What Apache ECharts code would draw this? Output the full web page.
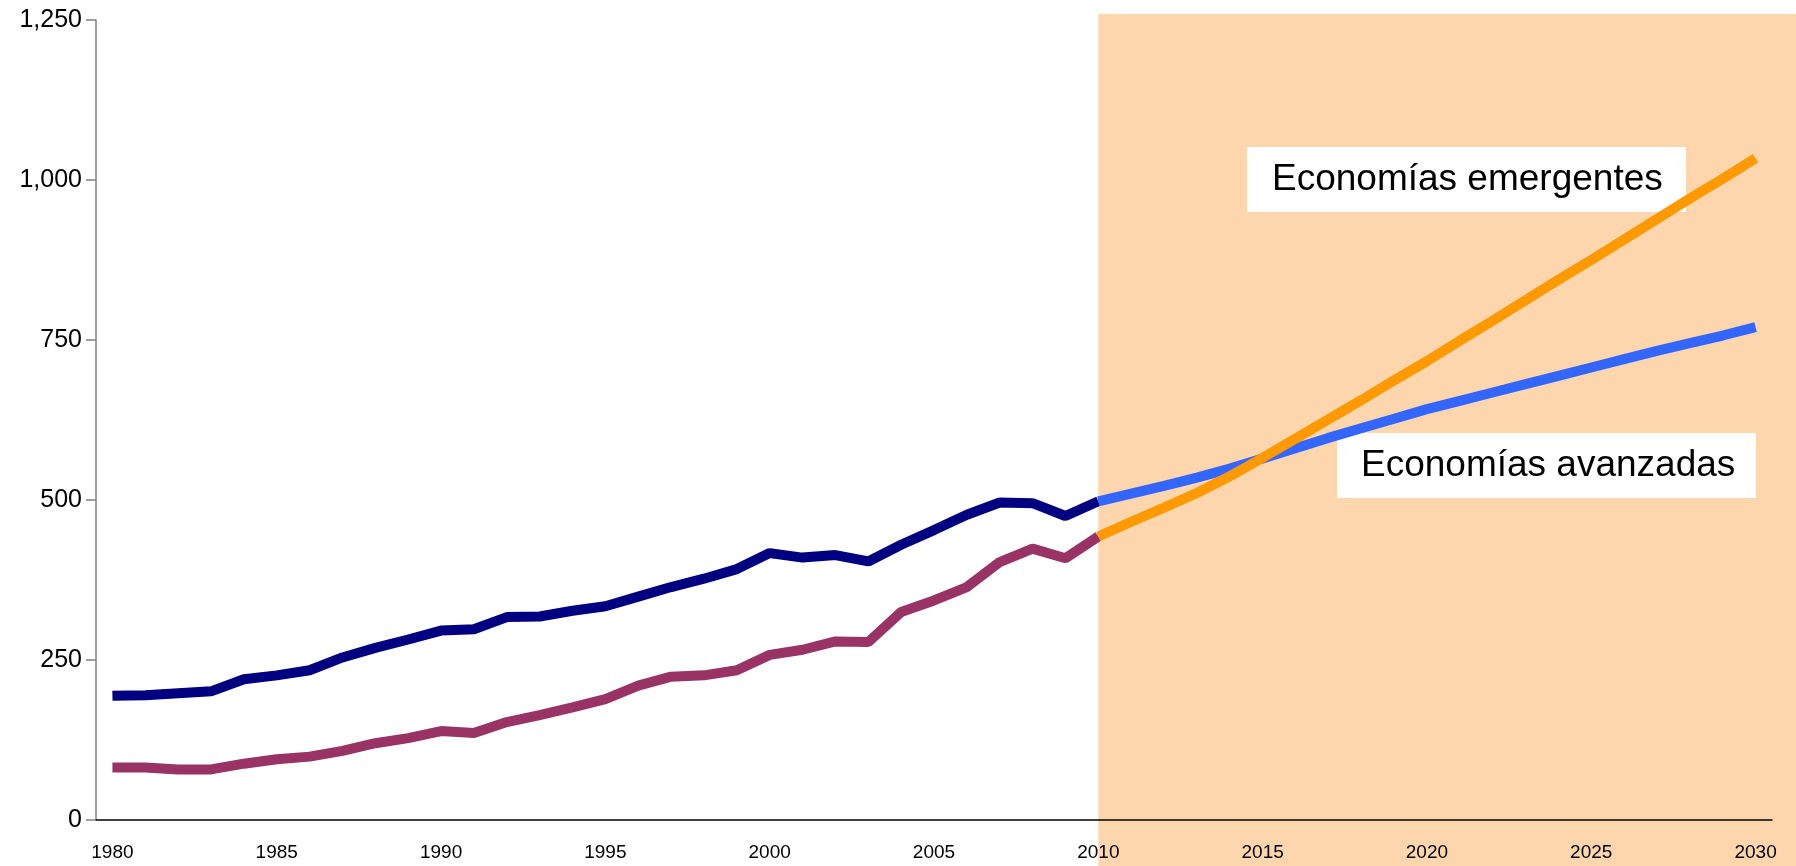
<!DOCTYPE html>
<html>
<head>
<meta charset="utf-8">
<script src="https://cdn.jsdelivr.net/npm/echarts@6/dist/echarts.min.js"></script>
<style>
  html, body { margin: 0; padding: 0; background: #fff; }
  #chart { width: 1796px; height: 866px; }
</style>
</head>
<body>
<div id="chart"></div>
<script>
// years on the category axis
var years = [];
for (var y = 1980; y <= 2030; y++) { years.push(String(y)); }

// historic 1980-2010
var avanzadasHist = [194, 195, 198, 201, 220, 226, 234, 254, 269, 282, 296, 298, 317, 318,
    327, 334, 349, 364, 377, 392, 417, 410, 414, 404, 430, 453, 477, 496, 495, 475, 498];
var emergentesHist = [82, 82, 79, 79, 88, 95, 99, 108, 120, 128, 139, 136, 153, 164,
    176, 189, 210, 224, 226, 234, 258, 266, 279, 278, 325, 343, 364, 403, 424, 409, 443];

// projections 2010-2030
var avanzadasProj = [498, 510, 522, 535, 549, 565, 581, 597, 612, 627, 642,
    655, 668, 681, 694, 707, 720, 733, 745, 757, 770];
var emergentesProj = [443, 466, 488, 511, 537, 566, 596, 626, 656, 687, 717,
    749, 780, 812, 844, 875, 907, 939, 971, 1002, 1034];

var yTicks = [0, 250, 500, 750, 1000, 1250];

var labelFont = "'Liberation Sans Narrow', 'Arial Narrow', 'Liberation Sans', Arial, sans-serif";
var boxFont = "'Liberation Sans', Arial, sans-serif";

function padRight(arr, total) {
    var out = arr.slice();
    while (out.length < total) { out.push('-'); }
    return out;
}
function padLeft(arr, total) {
    var out = arr.slice();
    while (out.length < total) { out.unshift('-'); }
    return out;
}

var chart = echarts.init(document.getElementById('chart'));

var option = {
    animation: false,
    backgroundColor: '#ffffff',
    grid: { left: 96, right: 24, top: 20, bottom: 46 },
    xAxis: {
        type: 'category',
        data: years,
        boundaryGap: true,
        axisLine: { lineStyle: { color: '#000000', width: 1.5 } },
        axisTick: { interval: 4, length: 9, lineStyle: { color: '#000000', width: 1.5 } },
        axisLabel: {
            interval: 4,
            margin: 23,
            color: '#000000',
            fontSize: 19,
            fontFamily: labelFont
        },
        splitLine: { show: false }
    },
    yAxis: {
        type: 'value',
        min: yTicks[0],
        max: yTicks[yTicks.length - 1],
        interval: 250,
        axisLine: { show: true, lineStyle: { color: '#808080', width: 1.5 } },
        axisTick: { show: true, length: 10, lineStyle: { color: '#808080', width: 1.5 } },
        axisLabel: {
            margin: 14,
            color: '#000000',
            fontSize: 25,
            fontFamily: labelFont,
            formatter: function (v) { return v.toLocaleString('en-US'); }
        },
        splitLine: { show: false }
    },
    series: [
        {
            name: 'Economías avanzadas (hist)',
            type: 'line',
            data: padRight(avanzadasHist, years.length),
            showSymbol: false,
            symbol: 'none',
            lineStyle: { color: '#000080', width: 10 },
            z: 3
        },
        {
            name: 'Economías emergentes (hist)',
            type: 'line',
            data: padRight(emergentesHist, years.length),
            showSymbol: false,
            symbol: 'none',
            lineStyle: { color: '#993366', width: 10 },
            z: 3
        },
        {
            name: 'Economías avanzadas',
            type: 'line',
            data: padLeft(avanzadasProj, years.length),
            showSymbol: false,
            symbol: 'none',
            lineStyle: { color: '#3366FF', width: 10 },
            z: 4
        },
        {
            name: 'Economías emergentes',
            type: 'line',
            data: padLeft(emergentesProj, years.length),
            showSymbol: false,
            symbol: 'none',
            lineStyle: { color: '#FF9900', width: 10 },
            z: 5
        }
    ]
};
chart.setOption(option);

// shaded projection period, starting at the 2010 point
var xStart = chart.convertToPixel({ xAxisIndex: 0 }, '2010');
chart.setOption({
    graphic: [
        {
            type: 'rect',
            z: -10,
            silent: true,
            shape: { x: xStart, y: 14, width: 1796 - xStart, height: 866 - 14 },
            style: { fill: '#FDD6AE' }
        },
        {
            type: 'group',
            z: 100,
            children: [
                { type: 'rect', shape: { x: 1247, y: 147, width: 439, height: 65 }, style: { fill: '#ffffff' } },
                { type: 'text', x: 1272, y: 180, style: { text: 'Economías emergentes', font: '37px ' + boxFont, fill: '#000000', verticalAlign: 'middle' } }
            ]
        },
        {
            type: 'group',
            z: 100,
            children: [
                { type: 'rect', shape: { x: 1337, y: 433, width: 419, height: 65 }, style: { fill: '#ffffff' } },
                { type: 'text', x: 1361, y: 466, style: { text: 'Economías avanzadas', font: '37px ' + boxFont, fill: '#000000', verticalAlign: 'middle' } }
            ]
        }
    ]
});
</script>
</body>
</html>
